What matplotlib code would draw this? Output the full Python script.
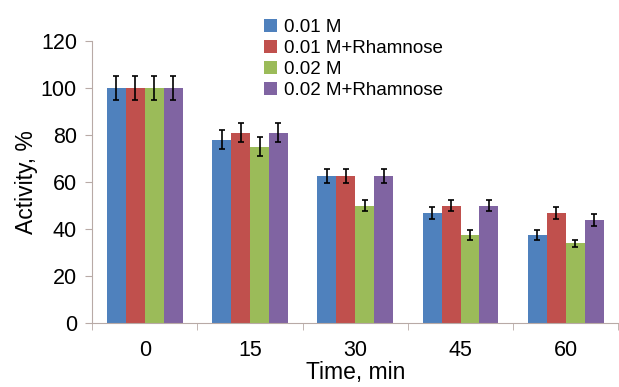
import numpy as np
import matplotlib.pyplot as plt

plt.rcParams['font.family'] = ['Liberation Sans', 'DejaVu Sans']

times = ['0', '15', '30', '45', '60']
labels = ['0.01 M', '0.01 M+Rhamnose', '0.02 M', '0.02 M+Rhamnose']
colors = ['#4F81BD', '#C0504D', '#9BBB59', '#8064A2']

act_01 = [100, 78, 62.5, 47, 37.5]
act_01r = [100, 81, 62.5, 50, 47]
act_02 = [100, 75, 50, 37.5, 34]
act_02r = [100, 81, 62.5, 50, 44]

err_01 = [5, 4, 3, 2.5, 2]
err_01r = [5, 4, 3, 2.5, 2.5]
err_02 = [5, 4, 2.5, 2, 1.5]
err_02r = [5, 4, 3, 2.5, 2.5]

series = [act_01, act_01r, act_02, act_02r]
errors = [err_01, err_01r, err_02, err_02r]

fig = plt.figure(figsize=(6.19, 3.87), dpi=100)
ax = fig.add_axes([0.149, 0.165, 0.85, 0.729])

x = np.arange(len(times))
w = 0.18
for i in range(4):
    ax.bar(x + (i - 1.5) * w, series[i], w, color=colors[i], label=labels[i],
           yerr=errors[i], capsize=2.5,
           error_kw=dict(ecolor='black', elinewidth=1.2, capthick=1.2))

ax.set_xlim(-0.5, 4.5)
ax.set_ylim(0, 120)
ax.set_yticks(range(0, 121, 20))
ax.set_xticks(x)
ax.set_xticklabels(times)
ax.set_xticks(np.arange(-0.5, 4.6, 1), minor=True)
ax.tick_params(axis='x', which='major', length=0, pad=12, labelsize=15.5)
ax.tick_params(axis='x', which='minor', length=5, color='#b8aaa6')
ax.tick_params(axis='y', length=5, color='#b8aaa6', labelsize=15.5, pad=6)

for s in ['top', 'right']:
    ax.spines[s].set_visible(False)
ax.spines['left'].set_color('#b8aaa6')
ax.spines['bottom'].set_color('#b8aaa6')

ax.set_xlabel('Time, min', fontsize=16.5, labelpad=0)
ax.set_ylabel('Activity, %', fontsize=16.5, labelpad=2)

fig.legend(loc='upper left', bbox_to_anchor=(0.405, 0.985), frameon=False,
           fontsize=13.5, handlelength=0.7, handleheight=0.7, handletextpad=0.35,
           labelspacing=0.2, borderpad=0.2)

plt.savefig('out.png', dpi=100)
